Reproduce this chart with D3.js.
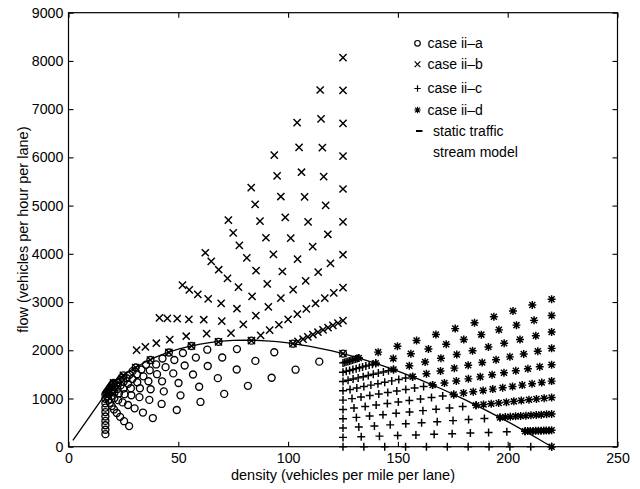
<!DOCTYPE html>
<html><head><meta charset="utf-8">
<script src="https://cdn.jsdelivr.net/npm/d3@7"></script>
<style>body{margin:0;background:#fff}svg{display:block}text{font-family:"Liberation Sans",Arial,Helvetica,sans-serif;fill:#000}</style>
</head><body>
<svg id="chart" width="640" height="489"></svg>
<script>
// ---- axis ticks ----
const xTicks = [0, 50, 100, 150, 200, 250];
const yTicks = [0, 1000, 2000, 3000, 4000, 5000, 6000, 7000, 8000, 9000];
const xLabel = "density (vehicles per mile per lane)";
const yLabel = "flow (vehicles per hour per lane)";
const legendLabels = ["case ii\u2013a", "case ii\u2013b", "case ii\u2013c", "case ii\u2013d", "static traffic", "stream model"];

// ---- static traffic stream model (density, flow) ----
const curveK = [2, 10, 16.8, 20.5, 25, 30, 35, 40, 45, 50, 55, 60, 65, 70, 75, 80, 85, 90, 95, 100, 110, 120, 125, 130, 140, 150, 160, 170, 180, 190, 200, 210, 215, 220];
const curveQ = [130, 650, 1092, 1328, 1484, 1632, 1756, 1862, 1950, 2022, 2082, 2128, 2163, 2188, 2203, 2209, 2207, 2196, 2178, 2153, 2082, 1986, 1929, 1867, 1728, 1568, 1391, 1197, 986, 760, 520, 267, 135, 0];

// ---- case ii-a (circles) [density, flow] ----
const caseA = [
 [[16.8,260],[27.6,427],[38.4,594],[49.3,761],[60.1,928],[70.9,1095],[81.7,1262],[92.5,1430],[103.4,1597],[114.2,1764],[125,1931]],
 [[16.8,351],[25.3,529],[33.9,708],[42.4,887],[51.0,1065],[59.5,1244],[68.0,1422],[76.6,1601],[85.1,1779],[93.7,1958],[102.2,2136]],
 [[16.8,444],[23.5,619],[30.1,795],[36.8,971],[43.4,1147],[50.1,1322],[56.7,1498],[63.4,1673],[70.0,1849],[76.7,2024],[83.3,2199]],
 [[16.8,535],[22.0,699],[27.1,864],[32.3,1028],[37.4,1192],[42.6,1356],[47.7,1520],[52.9,1684],[58.0,1848],[63.2,2012],[68.3,2175]],
 [[16.8,627],[20.7,773],[24.6,919],[28.6,1066],[32.5,1212],[36.4,1358],[40.3,1504],[44.2,1650],[48.2,1797],[52.1,1943],[56.0,2089]],
 [[16.8,718],[19.7,842],[22.6,965],[25.5,1089],[28.4,1212],[31.3,1336],[34.1,1459],[37.0,1583],[39.9,1706],[42.8,1830],[45.7,1954]],
 [[16.8,810],[18.9,909],[20.9,1008],[23.0,1107],[25.0,1205],[27.1,1304],[29.1,1403],[31.2,1502],[33.2,1601],[35.3,1700],[37.3,1798]],
 [[16.8,901],[18.2,975],[19.6,1049],[20.9,1123],[22.3,1197],[23.7,1271],[25.1,1345],[26.5,1419],[27.8,1493],[29.2,1567],[30.6,1642]],
 [[16.8,993],[17.6,1041],[18.4,1090],[19.3,1138],[20.1,1187],[20.9,1235],[21.7,1284],[22.5,1332],[23.4,1381],[24.2,1429],[25.0,1478]],
 [[16.8,1084],[17.2,1108],[17.5,1132],[17.9,1156],[18.3,1180],[18.7,1204],[19.0,1228],[19.4,1252],[19.8,1276],[20.1,1300],[20.5,1323]]
];

// ---- case ii-b (x marks) ----
const caseB = [
 [[125,1931]],
 [[102.2,2136],[104.5,2184],[106.8,2232],[109.0,2278],[111.3,2326],[113.6,2374],[115.9,2422],[118.2,2470],[120.4,2516],[122.7,2564],[125,2613]],
 [[83.3,2199],[87.5,2310],[91.6,2418],[95.8,2529],[100.0,2640],[104.2,2751],[108.3,2859],[112.5,2970],[116.7,3081],[120.8,3189],[125,3300]],
 [[68.3,2175],[74.0,2357],[79.6,2535],[85.3,2717],[91.0,2898],[96.7,3080],[102.3,3258],[108.0,3440],[113.7,3621],[119.3,3800],[125,3981]],
 [[56.0,2089],[62.9,2346],[69.8,2604],[76.7,2861],[83.6,3118],[90.5,3376],[97.4,3633],[104.3,3890],[111.2,4148],[118.1,4405],[125,4663]],
 [[45.7,1954],[53.6,2291],[61.6,2633],[69.5,2971],[77.4,3309],[85.4,3651],[93.3,3989],[101.2,4326],[109.1,4664],[117.1,5006],[125,5344]],
 [[37.3,1798],[46.1,2222],[54.8,2641],[63.6,3066],[72.4,3490],[81.2,3914],[89.9,4333],[98.7,4757],[107.5,5182],[116.2,5601],[125,6025]],
 [[30.6,1642],[40.0,2146],[49.5,2656],[58.9,3160],[68.4,3670],[77.8,4174],[87.2,4678],[96.7,5188],[106.1,5692],[115.6,6202],[125,6706]],
 [[25,1478],[35,2069],[45,2660],[55,3251],[65,3842],[75,4433],[85,5024],[95,5615],[105,6206],[115,6797],[125,7388]],
 [[20.5,1323],[31.0,2001],[41.4,2672],[51.9,3350],[62.3,4022],[72.8,4699],[83.2,5371],[93.7,6048],[104.1,6720],[114.6,7397],[125,8069]]
];

// ---- case ii-c (plus) ----
const caseC = [
 [[125,0],[134.5,0],[144,0],[153.5,0],[163,0],[172.5,0],[182,0],[191.5,0],[201,0],[210.5,0],[220,0]],
 [[125,193],[133.3,206],[141.6,219],[149.9,232],[158.2,244],[166.5,257],[174.7,270],[183.0,283],[191.3,296],[199.6,308],[207.9,321]],
 [[125,386],[132.2,408],[139.3,430],[146.5,453],[153.6,475],[160.8,497],[167.9,519],[175.1,541],[182.2,563],[189.4,585],[196.5,607]],
 [[125,579],[131.1,608],[137.1,635],[143.2,664],[149.2,692],[155.3,720],[161.4,748],[167.4,776],[173.5,804],[179.5,832],[185.6,860]],
 [[125,773],[130.0,803],[135.1,835],[140.1,866],[145.2,897],[150.2,928],[155.2,959],[160.3,991],[165.3,1022],[170.4,1053],[175.4,1084]],
 [[125,966],[129.1,997],[133.2,1029],[137.2,1060],[141.3,1092],[145.4,1123],[149.5,1155],[153.6,1187],[157.6,1217],[161.7,1249],[165.8,1281]],
 [[125,1159],[128.2,1188],[131.3,1217],[134.5,1247],[137.7,1277],[140.9,1306],[144.0,1335],[147.2,1365],[150.4,1394],[153.5,1423],[156.7,1453]],
 [[125,1352],[127.3,1377],[129.6,1402],[131.9,1427],[134.2,1451],[136.5,1476],[138.8,1501],[141.1,1526],[143.4,1551],[145.7,1576],[148.0,1601]],
 [[125,1545],[126.5,1564],[128.0,1582],[129.5,1601],[131.0,1619],[132.5,1638],[133.9,1655],[135.4,1673],[136.9,1692],[138.4,1711],[139.9,1729]],
 [[125,1738],[125.7,1748],[126.4,1758],[127.2,1769],[127.9,1778],[128.6,1788],[129.3,1798],[130.0,1808],[130.8,1819],[131.5,1829],[132.2,1838]]
];

// ---- case ii-d (asterisks) ----
const caseD = [
 [[220,0]],
 [[207.9,321],[209.1,323],[210.3,325],[211.5,327],[212.7,329],[214.0,331],[215.2,332],[216.4,334],[217.6,336],[218.8,338],[220,340]],
 [[196.5,607],[198.9,615],[201.2,622],[203.6,629],[205.9,636],[208.3,644],[210.6,651],[213.0,658],[215.3,665],[217.7,673],[220,680]],
 [[185.6,860],[189.0,876],[192.5,892],[195.9,908],[199.4,924],[202.8,940],[206.2,956],[209.7,972],[213.1,988],[216.6,1004],[220,1020]],
 [[175.4,1084],[179.9,1112],[184.3,1139],[188.8,1167],[193.2,1194],[197.7,1222],[202.2,1250],[206.6,1277],[211.1,1305],[215.5,1332],[220,1360]],
 [[165.8,1281],[171.2,1323],[176.6,1364],[182.1,1407],[187.5,1448],[192.9,1490],[198.3,1532],[203.7,1574],[209.2,1616],[214.6,1658],[220,1700]],
 [[156.7,1453],[163.0,1511],[169.4,1570],[175.7,1629],[182.0,1687],[188.4,1746],[194.7,1805],[201.0,1863],[207.3,1922],[213.7,1981],[220,2039]],
 [[148.0,1601],[155.2,1678],[162.4,1756],[169.6,1834],[176.8,1912],[184.0,1990],[191.2,2068],[198.4,2146],[205.6,2224],[212.8,2301],[220,2379]],
 [[139.9,1729],[147.9,1828],[155.9,1927],[163.9,2026],[172.0,2126],[180.0,2225],[188.0,2324],[196.0,2423],[204.0,2521],[212.0,2620],[220,2719]],
 [[132.2,1838],[141.0,1961],[149.8,2083],[158.5,2204],[167.3,2326],[176.1,2449],[184.9,2571],[193.7,2693],[202.4,2814],[211.2,2937],[220,3059]]
];

// ---- drawing ----
const svg = d3.select("#chart");
const L = 68.5, R = 617.5, T = 12.7, B = 446.7;
const x = d3.scaleLinear().domain([0, 250]).range([L, R]);
const y = d3.scaleLinear().domain([0, 9000]).range([B, T]);

svg.append("rect").attr("width", 640).attr("height", 489).attr("fill", "#fff");

const fontTick = 14.2;
const fmt = d3.format("d");
const gx = svg.append("g").attr("transform", `translate(0,${B})`)
  .call(d3.axisBottom(x).tickValues(xTicks).tickFormat(fmt).tickSizeInner(-5).tickSizeOuter(0).tickPadding(6.6));
const gy = svg.append("g").attr("transform", `translate(${L},0)`)
  .call(d3.axisLeft(y).tickValues(yTicks).tickFormat(fmt).tickSizeInner(-5).tickSizeOuter(0).tickPadding(5.2));
const gt = svg.append("g").attr("transform", `translate(0,${T})`)
  .call(d3.axisTop(x).tickValues(xTicks).tickSizeInner(-5).tickSizeOuter(0).tickFormat(""));
const gr = svg.append("g").attr("transform", `translate(${R},0)`)
  .call(d3.axisRight(y).tickValues(yTicks).tickSizeInner(-5).tickSizeOuter(0).tickFormat(""));
[gx, gy, gt, gr].forEach(g => {
  g.select(".domain").remove();
  g.selectAll(".tick line").attr("stroke", "#000").attr("stroke-width", 1.1);
  g.selectAll("text").style("font-size", fontTick + "px").attr("fill", "#000")
    .style("font-family", "'Liberation Sans',Arial,Helvetica,sans-serif");
});
svg.append("rect").attr("x", L).attr("y", T).attr("width", R - L).attr("height", B - T)
  .attr("fill", "none").attr("stroke", "#000").attr("stroke-width", 1.2);

// axis labels
svg.append("text").attr("x", (L + R) / 2).attr("y", 480).attr("text-anchor", "middle")
  .style("font-size", "14.5px").text(xLabel);
svg.append("text").attr("transform", `translate(27.5,${(T + B) / 2}) rotate(-90)`).attr("text-anchor", "middle")
  .style("font-size", "14.5px").text(yLabel);

// marker shapes
const shapes = {
  x: "M-3.6,-3.6L3.6,3.6M-3.6,3.6L3.6,-3.6",
  plus: "M-4,0H4M0,-4V4",
  star: "M-4,0H4M0,-4V4M-3,-3L3,3M-3,3L3,-3"
};
const plot = svg.append("g");

function drawPaths(data, shape) {
  plot.append("g").selectAll("path").data(data.flat()).join("path")
    .attr("transform", d => `translate(${x(d[0])},${y(d[1])})`)
    .attr("d", shapes[shape]).attr("fill", "none").attr("stroke", "#000").attr("stroke-width", 1.45);
}
plot.append("g").selectAll("circle").data(caseA.flat()).join("circle")
  .attr("cx", d => x(d[0])).attr("cy", d => y(d[1])).attr("r", 3.5)
  .attr("fill", "none").attr("stroke", "#000").attr("stroke-width", 1.35);
drawPaths(caseB, "x");
drawPaths(caseC, "plus");
drawPaths(caseD, "star");

// model curve
const curveData = curveK.map((k, i) => [k, curveQ[i]]);
plot.append("path").datum(curveData)
  .attr("d", d3.line().x(d => x(d[0])).y(d => y(d[1])))
  .attr("fill", "none").attr("stroke", "#000").attr("stroke-width", 1.3);

// legend
const lg = svg.append("g");
const legY = [43.3, 64.3, 88.5, 110, 131, 152];
const markX = 417.5, textX = 427.5, textX2 = 433;
lg.append("circle").attr("cx", markX).attr("cy", legY[0]).attr("r", 2.8)
  .attr("fill", "none").attr("stroke", "#000").attr("stroke-width", 1.2);
[["x", 1], ["plus", 2], ["star", 3]].forEach(([s, i]) => {
  lg.append("path").attr("transform", `translate(${markX},${legY[i]}) scale(0.8)`).attr("d", shapes[s])
    .attr("fill", "none").attr("stroke", "#000").attr("stroke-width", 1.5);
});
lg.append("line").attr("x1", markX - 1.5).attr("x2", markX + 5).attr("y1", legY[4]).attr("y2", legY[4])
  .attr("stroke", "#000").attr("stroke-width", 2);
legendLabels.forEach((t, i) => {
  lg.append("text").attr("x", i < 4 ? textX : textX2).attr("y", legY[i]).attr("dy", "0.35em")
    .style("font-size", "14px").text(t);
});
</script>
</body></html>
